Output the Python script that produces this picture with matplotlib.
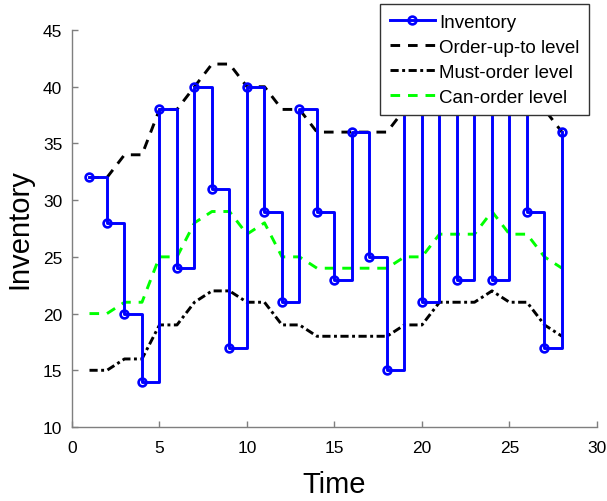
"""
Inventory trajectory against the order-up-to, must-order and can-order levels.

Output:
    out.png
"""

import matplotlib.pyplot as plt

# Time periods 1..28
time = list(range(1, 29))

inventory = [32, 28, 20, 14, 38, 24, 40, 31, 17, 40, 29, 21, 38, 29,
             23, 36, 25, 15, 38, 21, 40, 23, 40, 23, 40, 29, 17, 36]
order_up_to = [32, 32, 34, 34, 38, 38, 40, 42, 42, 40, 40, 38, 38, 36,
               36, 36, 36, 36, 38, 38, 40, 40, 40, 42, 40, 40, 38, 36]
must_order = [15, 15, 16, 16, 19, 19, 21, 22, 22, 21, 21, 19, 19, 18,
              18, 18, 18, 18, 19, 19, 21, 21, 21, 22, 21, 21, 19, 18]
can_order = [20, 20, 21, 21, 25, 25, 28, 29, 29, 27, 28, 25, 25, 24,
             24, 24, 24, 24, 25, 25, 27, 27, 27, 29, 27, 27, 25, 24]

x_ticks = [0, 5, 10, 15, 20, 25, 30]
y_ticks = [10, 15, 20, 25, 30, 35, 40, 45]

# MATLAB-like dash patterns (in units of line width)
DASHED = (0, (3.3, 2.7))
DASHDOT = (0, (2.8, 1.2, 1.0, 1.2))


def main():
    plt.rcParams["font.family"] = ["Liberation Sans", "DejaVu Sans"]

    fig = plt.figure(figsize=(6.07, 5.02), dpi=100)
    ax = fig.add_axes([0.1186, 0.1474, 0.8649, 0.7908])

    ax.step(time, inventory, where="post", color="#0000ff", lw=2.1,
            marker="o", markersize=5.6, markerfacecolor="none",
            markeredgewidth=1.9, label="Inventory", zorder=3)
    ax.plot(time, order_up_to, color="black", lw=2.1, ls=DASHED,
            label="Order-up-to level")
    ax.plot(time, must_order, color="black", lw=2.1, ls=DASHDOT,
            label="Must-order level")
    ax.plot(time, can_order, color="#00ff00", lw=2.1, ls=DASHED,
            label="Can-order level")

    ax.set_xlim(0, 30)
    ax.set_ylim(10, 45)
    ax.set_xticks(x_ticks)
    ax.set_yticks(y_ticks)

    # MATLAB look: box off, inward ticks, gray axes
    for side in ("top", "right"):
        ax.spines[side].set_visible(False)
    for side in ("left", "bottom"):
        ax.spines[side].set_color("#7f7f7f")
        ax.spines[side].set_linewidth(1.0)
    ax.tick_params(direction="in", length=4.5, width=1.0, color="#7f7f7f",
                   labelsize=12.5, labelcolor="black")
    ax.tick_params(axis="x", pad=9)
    ax.tick_params(axis="y", pad=7)

    ax.set_xlabel("Time", fontsize=21, labelpad=11)
    ax.set_ylabel("Inventory", fontsize=21, labelpad=7)

    leg = ax.legend(loc="upper right", bbox_to_anchor=(0.9704, 0.990),
                    bbox_transform=fig.transFigure, fontsize=13.5,
                    frameon=True, fancybox=False, handlelength=2.4,
                    handletextpad=0.25, borderpad=0.5, labelspacing=0.42,
                    borderaxespad=0)
    leg.get_frame().set_edgecolor("#333333")
    leg.get_frame().set_linewidth(1.0)
    leg.get_frame().set_alpha(1.0)
    leg.set_zorder(5)

    fig.savefig("out.png", dpi=100)


if __name__ == "__main__":
    main()
